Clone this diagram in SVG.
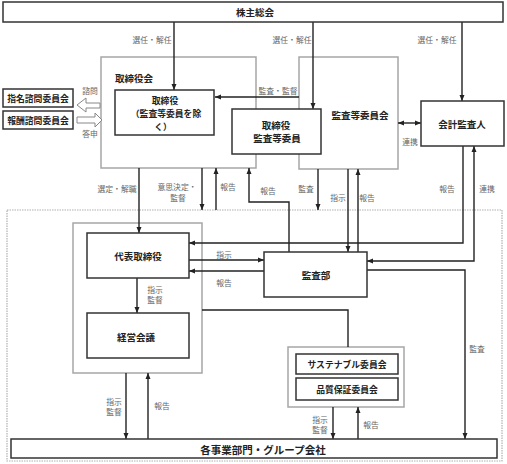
<svg xmlns="http://www.w3.org/2000/svg" width="507" height="464" viewBox="0 0 507 464">
<style>
text{font-family:"Noto Sans CJK JP","Noto Sans",sans-serif;text-anchor:middle;dominant-baseline:central}
.n{font-size:9.5px;font-weight:700;fill:#222}
.l{font-size:7.8px;fill:#666}
.box{fill:#fff;stroke:#333;stroke-width:1.5}
.gbox{fill:none;stroke:#a6a6a6;stroke-width:1.5}
.dot{fill:none;stroke:#b0b0b0;stroke-width:1.2;stroke-dasharray:1.5 1}
.c{fill:none;stroke:#222;stroke-width:1.4}
.blk{fill:#fff;stroke:#888;stroke-width:1}
</style>
<defs>
<marker id="a" viewBox="0 0 6 6" refX="6" refY="3" markerWidth="6" markerHeight="6" markerUnits="userSpaceOnUse" orient="auto-start-reverse"><path d="M0 0.5L6 3L0 5.5z" fill="#222"/></marker>
</defs>
<rect width="507" height="464" fill="#fff"/>

<g id="group-lower"><rect class="dot" x="7" y="210" width="495" height="251"/></g>
<g id="torishimariyakukai"><rect class="gbox" x="101" y="57" width="155" height="111"/><text class="n" x="134" y="78">取締役会</text></g>
<g id="kansatoiinkai"><rect class="gbox" x="299" y="57" width="99" height="112"/><text class="n" x="360" y="115">監査等委員会</text></g>
<g id="daihyo-group"><rect class="gbox" x="73" y="223" width="129" height="150"/></g>
<g id="committee-group"><rect class="gbox" x="288" y="347" width="116" height="60"/></g>

<g id="connectors">
<path class="c" d="M174 22V90" marker-end="url(#a)"/>
<path class="c" d="M313 22V109" marker-end="url(#a)"/>
<path class="c" d="M462 22V101" marker-end="url(#a)"/>
<path class="c" d="M299 97H215" marker-end="url(#a)"/>
<path class="c" d="M398 123H421" marker-start="url(#a)" marker-end="url(#a)"/>
<path class="c" d="M139 168V233" marker-end="url(#a)"/>
<path class="c" d="M202 168V210" marker-end="url(#a)"/>
<path class="c" d="M216 210V168" marker-end="url(#a)"/>
<path class="c" d="M289 252V202H249V168" marker-end="url(#a)"/>
<path class="c" d="M318 169V210" marker-end="url(#a)"/>
<path class="c" d="M348 169V252" marker-end="url(#a)"/>
<path class="c" d="M358 252V169" marker-end="url(#a)"/>
<path class="c" d="M463 146V243H189" marker-end="url(#a)"/>
<path class="c" d="M474 146V261H367" marker-start="url(#a)" marker-end="url(#a)"/>
<path class="c" d="M189 260H264" marker-end="url(#a)"/>
<path class="c" d="M264 271H189" marker-end="url(#a)"/>
<path class="c" d="M367 270H465V439" marker-end="url(#a)"/>
<path class="c" d="M137 278V313" marker-end="url(#a)"/>
<path class="c" d="M202 310H348V347"/>
<path class="c" d="M126 373V439" marker-end="url(#a)"/>
<path class="c" d="M148 439V373" marker-end="url(#a)"/>
<path class="c" d="M333 407V439" marker-end="url(#a)"/>
<path class="c" d="M358 439V407" marker-end="url(#a)"/>
<path class="blk" d="M100 103H86V98L77 105L86 112V108H100Z"/>
<path class="blk" d="M77 117H95V113L102 120L95 127V123H77Z"/>
<text class="l" x="152" y="39">選任・解任</text>
<text class="l" x="292" y="39">選任・解任</text>
<text class="l" x="437" y="39">選任・解任</text>
<text class="l" x="278" y="90">監査・監督</text>
<text class="l" x="410" y="141">連携</text>
<text class="l" x="90" y="90">諮問</text>
<text class="l" x="90" y="133">答申</text>
<text class="l" x="117" y="188">選定・解職</text>
<text class="l" y="186"><tspan x="177">意思決定・</tspan><tspan x="178" dy="11">監督</tspan></text>
<text class="l" x="228" y="186">報告</text>
<text class="l" x="268" y="190">報告</text>
<text class="l" x="306" y="188">監査</text>
<text class="l" x="338" y="197">指示</text>
<text class="l" x="367" y="197">報告</text>
<text class="l" x="447" y="188">報告</text>
<text class="l" x="487" y="188">連携</text>
<text class="l" x="224" y="254">指示</text>
<text class="l" x="224" y="282">報告</text>
<text class="l" y="289"><tspan x="155">指示</tspan><tspan x="155" dy="10">監督</tspan></text>
<text class="l" x="477" y="348">監査</text>
<text class="l" y="401"><tspan x="114">指示</tspan><tspan x="114" dy="10">監督</tspan></text>
<text class="l" x="162" y="405">報告</text>
<text class="l" y="419"><tspan x="320">指示</tspan><tspan x="320" dy="10">監督</tspan></text>
<text class="l" x="371" y="424">報告</text>
</g>

<g id="kabunushi"><rect class="box" x="3" y="2" width="500" height="20"/><text class="n" x="255" y="12">株主総会</text></g>
<g id="torishimariyaku"><rect class="box" x="115" y="90" width="99" height="45"/><text class="n" y="99.5" style="font-size:8.8px"><tspan x="165">取締役</tspan><tspan x="166" dy="13">（監査等委員を除</tspan><tspan x="163" dy="13">く）</tspan></text></g>
<g id="torishimariyaku-kansa"><rect class="box" x="232" y="109" width="89" height="45"/><text class="n" y="125"><tspan x="276">取締役</tspan><tspan x="277" dy="13">監査等委員</tspan></text></g>
<g id="kaikei"><rect class="box" x="421" y="101" width="83" height="45"/><text class="n" x="462" y="124">会計監査人</text></g>
<g id="shimei"><rect class="box" x="3" y="89" width="70" height="18"/><text class="n" x="38" y="98" style="font-size:8.8px">指名諮問委員会</text></g>
<g id="hoshu"><rect class="box" x="3" y="111" width="70" height="18"/><text class="n" x="38" y="120" style="font-size:8.8px">報酬諮問委員会</text></g>
<g id="daihyo"><rect class="box" x="87" y="233" width="102" height="45"/><text class="n" x="138" y="256">代表取締役</text></g>
<g id="keiei"><rect class="box" x="87" y="313" width="102" height="45"/><text class="n" x="136" y="337">経営会議</text></g>
<g id="kansabu"><rect class="box" x="264" y="252" width="103" height="45"/><text class="n" x="316" y="275">監査部</text></g>
<g id="sustainable"><rect class="box" x="296" y="354" width="102" height="20"/><text class="n" x="347" y="364.5" style="font-size:8.8px">サステナブル委員会</text></g>
<g id="hinshitsu"><rect class="box" x="296" y="378" width="102" height="22"/><text class="n" x="347" y="389" style="font-size:8.8px">品質保証委員会</text></g>
<g id="jigyobu"><rect class="box" x="11" y="439" width="486" height="19"/><text class="n" x="263" y="449" style="font-size:10.5px">各事業部門・グループ会社</text></g>
</svg>
